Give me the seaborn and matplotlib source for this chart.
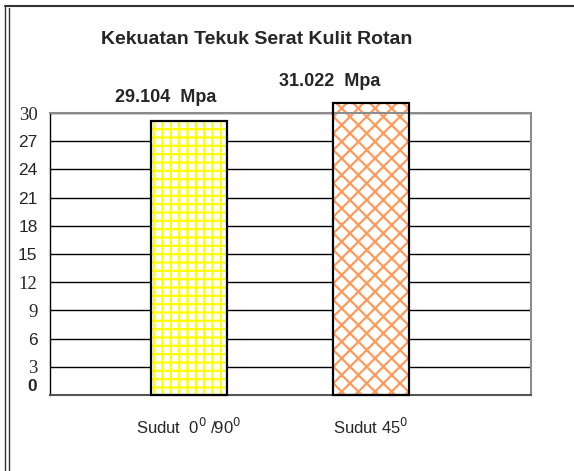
import numpy as np
import pandas as pd
import seaborn as sns
from matplotlib import pyplot as plt
from matplotlib.patches import Rectangle
from matplotlib.lines import Line2D
import matplotlib.transforms as mtransforms

# data
kategori = ["Sudut  0$^0$ /90$^0$", "Sudut 45$^0$"]
kekuatan = [29.104, 31.022]
label_nilai = ["29.104  Mpa", "31.022  Mpa"]
yticks = [0, 3, 6, 9, 12, 15, 18, 21, 24, 27, 30]

sns.set_style("white")
plt.rcParams['font.family'] = ['Liberation Sans', 'DejaVu Sans']
plt.rcParams['hatch.linewidth'] = 1.6

fig = plt.figure(figsize=(5.74, 4.71), dpi=100)
ax = fig.add_axes([50 / 574, 1 - 395 / 471, 481 / 574, 282 / 471])

df = pd.DataFrame({"kategori": kategori, "kekuatan": kekuatan})
sns.barplot(data=df, x="kategori", y="kekuatan", hue="kategori",
            palette=["white", "white"], width=0.42, legend=False, ax=ax)

hatch_warna = ["#FFFF00", "#FF9A5A"]
hatch_pola = ["++", "xx"]
for p, hc, hp in zip(ax.patches, hatch_warna, hatch_pola):
    p.set_facecolor("white")
    p.set_edgecolor(hc)
    p.set_hatch(hp)
    p.set_linewidth(0)
    p.set_zorder(2)
    p.set_clip_on(False)
    ax.add_patch(Rectangle(p.get_xy(), p.get_width(), p.get_height(),
                           fill=False, ec="black", lw=1.6, zorder=3, clip_on=False))

ax.set_ylim(0, 30)
ax.set_xlim(-0.764, 1.879)
ax.set_yticks(yticks)
ax.yaxis.grid(True, color="black", lw=1.0)
ax.set_axisbelow(True)
ax.set_xlabel("")
ax.set_ylabel("")

# spines
for s in ["top", "right", "bottom"]:
    ax.spines[s].set_visible(True)
    ax.spines[s].set_color("#8c8c8c")
    ax.spines[s].set_linewidth(1.5)
ax.spines["bottom"].set_color("#555555")
ax.spines["left"].set_color("black")
ax.spines["left"].set_linewidth(1.0)

# x ticks: labels at bars, tick marks at the Excel category boundaries
ax.tick_params(axis="x", which="major", length=0, pad=16, labelsize=12)
ax.set_xticks(np.linspace(-0.764, 1.879, 5), minor=True)
ax.tick_params(axis="x", which="minor", length=5, width=1, color="#333333", direction="out")
ax.tick_params(axis="y", length=3, width=1, color="black", direction="out", pad=6, labelsize=12.5)

serif_ticks = {"30", "12", "9", "3"}
for lbl in ax.get_yticklabels():
    t = lbl.get_text()
    if t in serif_ticks:
        lbl.set_family("Liberation Serif")
        lbl.set_fontsize(13.5)
    if t == "0":
        lbl.set_fontweight("bold")
        lbl.set_transform(lbl.get_transform() + mtransforms.ScaledTranslation(0, 7 / 72, fig.dpi_scale_trans))

# value labels
offset = [(-17, 17), (-30, 16)]
for i, (v, txt) in enumerate(zip(kekuatan, label_nilai)):
    ax.annotate(txt, xy=(i, v), xytext=offset[i], textcoords="offset points",
                ha="center", va="center", fontsize=13, fontweight="bold",
                annotation_clip=False)

fig.text(257 / 574, 1 - 40 / 471, "Kekuatan Tekuk Serat Kulit Rotan",
         ha="center", va="center", fontsize=14, fontweight="bold")

# outer frame of the document
fig.add_artist(Line2D([5 / 574, 1], [1 - 6 / 471] * 2, color="#333333", lw=1.5))
fig.add_artist(Line2D([5 / 574] * 2, [0, 1 - 6 / 471], color="#333333", lw=1.0))
fig.add_artist(Line2D([8.5 / 574] * 2, [0, 1 - 8 / 471], color="#333333", lw=1.0))

fig.savefig("out.png", dpi=100)
